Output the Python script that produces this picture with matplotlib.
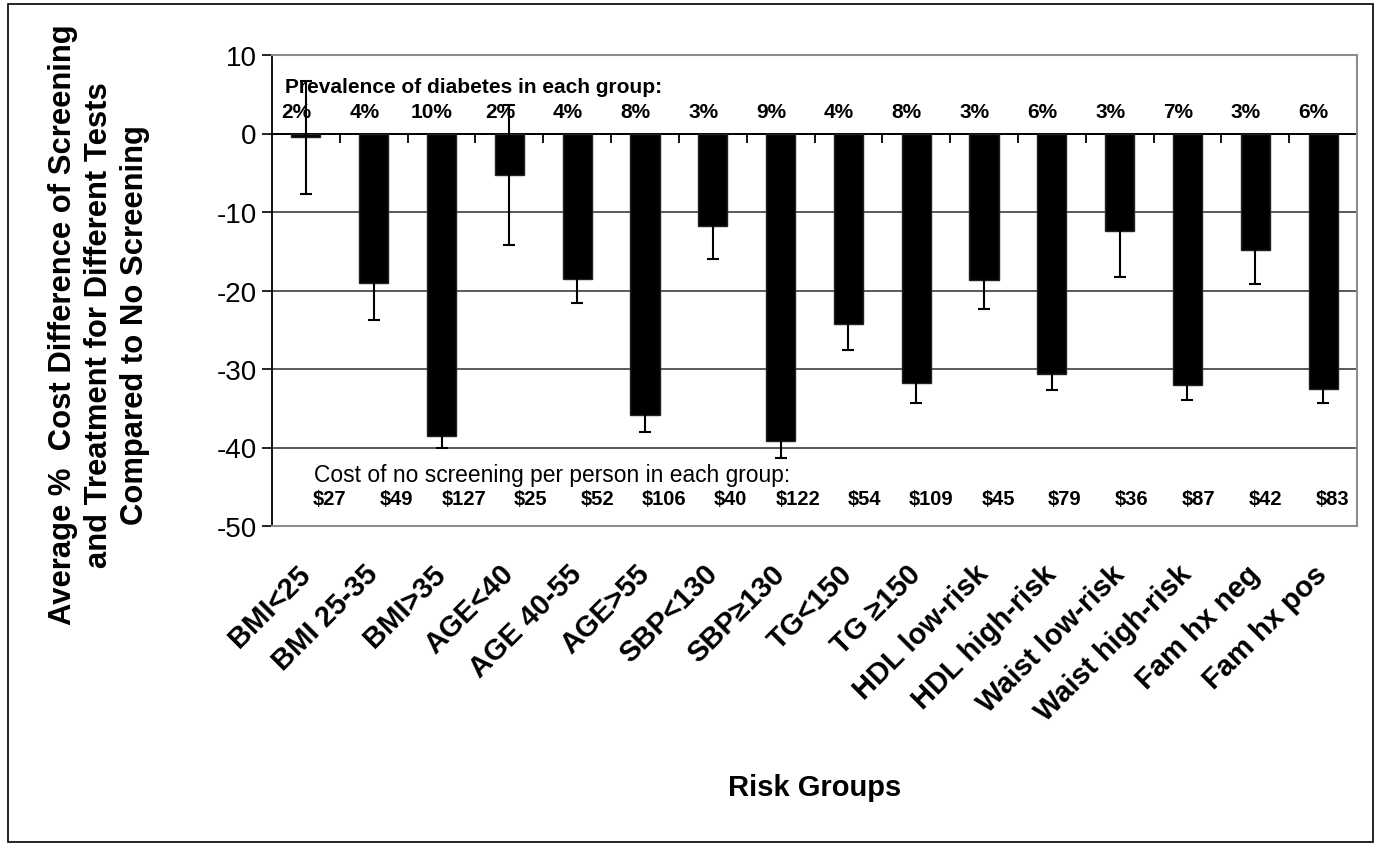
# === IMPORT LIBRARY ===
import numpy as np
import matplotlib
matplotlib.use("Agg")
import matplotlib.pyplot as plt
from matplotlib.patches import Rectangle

plt.rcParams['font.family'] = ['Liberation Sans', 'DejaVu Sans']
plt.rcParams['axes.unicode_minus'] = False

# === DATA ===
groups = ["BMI<25", "BMI 25-35", "BMI>35", "AGE<40", "AGE 40-55", "AGE>55",
          "SBP<130", "SBP\u2265130", "TG<150", "TG \u2265150", "HDL low-risk",
          "HDL high-risk", "Waist low-risk", "Waist high-risk", "Fam hx neg",
          "Fam hx pos"]
cost_diff = [-0.5, -19.0, -38.5, -5.3, -18.5, -35.9, -11.8, -39.2,
             -24.3, -31.8, -18.6, -30.7, -12.4, -32.0, -14.9, -32.6]
err = [7.2, 4.7, 1.5, 8.9, 3.1, 2.1, 4.2, 2.1,
       3.3, 2.5, 3.7, 2.0, 5.9, 2.0, 4.3, 1.7]
prevalence = ["2%", "4%", "10%", "2%", "4%", "8%", "3%", "9%",
              "4%", "8%", "3%", "6%", "3%", "7%", "3%", "6%"]
cost_no_screen = ["$27", "$49", "$127", "$25", "$52", "$106", "$40", "$122",
                  "$54", "$109", "$45", "$79", "$36", "$87", "$42", "$83"]

x = np.arange(len(groups))

# === FIGURE ===
fig = plt.figure(figsize=(13.8, 8.54), dpi=100)
ax = fig.add_axes([272 / 1380, 1 - 527 / 854, (1357 - 272) / 1380, (527 - 56) / 854])

ax.bar(x, cost_diff, width=0.43, color="black", edgecolor="#222222", zorder=3)
ax.errorbar(x, cost_diff, yerr=err, fmt="none", ecolor="black",
            elinewidth=1.5, capsize=4, capthick=1.5, zorder=4)

ax.set_xlim(-0.5, len(groups) - 0.5)
ax.set_ylim(-50, 10)
ax.set_yticks(np.arange(-50, 11, 10))
ax.tick_params(axis="y", labelsize=20, length=7, width=1.2, pad=4)

# gridlines and zero line with category ticks
for v in np.arange(-40, 0, 10):
    ax.axhline(v, color="#4d4d4d", lw=1.3, zorder=1)
ax.axhline(0, color="black", lw=1.4, zorder=2)
ax.vlines(np.append(x[1:] - 0.5, len(groups) - 0.5), -1.15, 0,
          color="black", lw=1.3, zorder=2)

ax.set_xticks(x)
ax.set_xticklabels(groups, rotation=45, ha="right", va="center",
                   rotation_mode="anchor", fontsize=21, fontweight="bold")
ax.tick_params(axis="x", length=0, pad=31)

for s in ["top", "right", "bottom"]:
    ax.spines[s].set_color("#8c8c8c")
    ax.spines[s].set_linewidth(1.5)
ax.spines["left"].set_color("black")
ax.spines["left"].set_linewidth(1.3)

# annotations
ax.text(-0.31, 6.0, "Prevalence of diabetes in each group:", fontsize=15,
        fontweight="bold", va="center", ha="left", zorder=5)
for i, p in enumerate(prevalence):
    ax.text(x[i] - 0.14, 2.8, p, fontsize=15, fontweight="bold",
            ha="center", va="center", zorder=5)

ax.text(0.12, -43.4, "Cost of no screening per person in each group:",
        fontsize=16.4, va="center", ha="left")
cost_pos = np.linspace(0.355, 15.134, len(groups))
for i, c in enumerate(cost_no_screen):
    ax.text(cost_pos[i], -46.5, c, fontsize=14.5, fontweight="bold",
            ha="center", va="center")

# axis titles
fig.text(99 / 1380, 1 - 325 / 854,
         "Average %  Cost Difference of Screening\nand Treatment for Different Tests\nCompared to No Screening",
         rotation=90, ha="center", va="center", multialignment="center",
         fontsize=22.3, fontweight="bold", linespacing=1.27)
fig.text((272 + 1357) / 2 / 1380, 1 - 788 / 854, "Risk Groups",
         ha="center", va="center", fontsize=21, fontweight="bold")

# outer border
fig.patches.append(Rectangle((8 / 1380, 1 - 843 / 854), 1365 / 1380, 838 / 854,
                             transform=fig.transFigure, fill=False,
                             edgecolor="black", lw=1.2))

fig.savefig("out.png", dpi=100)
